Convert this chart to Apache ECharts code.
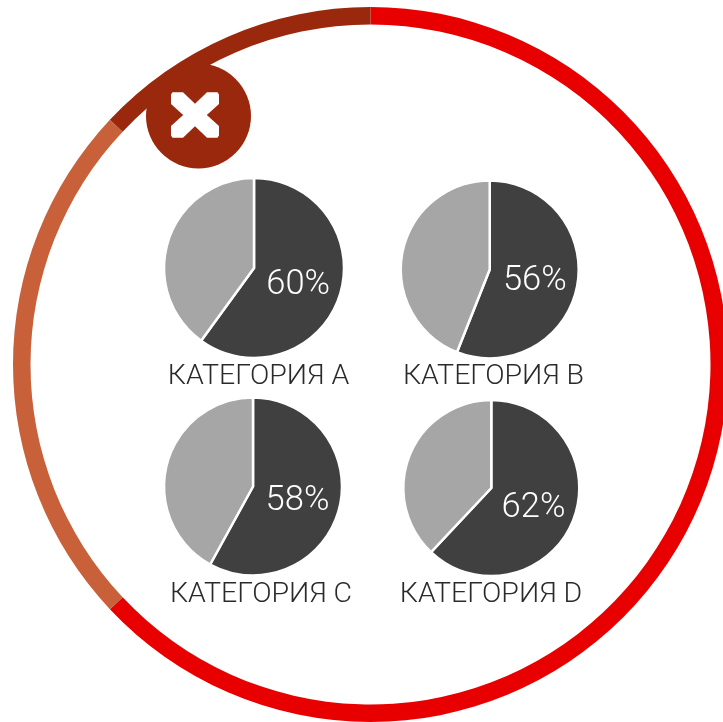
<!DOCTYPE html>
<html><head><meta charset="utf-8">
<style>html,body{margin:0;padding:0;background:#fff}#c{width:723px;height:722px}</style>
<script src="https://cdn.jsdelivr.net/npm/echarts@6/dist/echarts.min.js"></script>
</head><body><div id="c"></div>
<script>
const categories = ['КАТЕГОРИЯ A','КАТЕГОРИЯ B','КАТЕГОРИЯ C','КАТЕГОРИЯ D'];
const percentValues = [60,56,58,62];
const ringValues = [63,24,13];
const ringColors = ['#e80000','#c8603a','#9a280c'];
const pieCenters = [[254,268],[489.7,269.5],[253,486.5],[491.3,488]];
const pieRadii = [90,89,89,88];
const titleCenters = [[258.5,362],[493.5,362],[261,580],[491,580]];
const chart = echarts.init(document.getElementById('c'),null,{renderer:'canvas'});
const font = 'Roboto';
const series = [{
  type:'pie',center:[370.5,364.5],radius:[340,357.5],silent:true,clockwise:true,startAngle:90,
  label:{show:false},labelLine:{show:false},
  data:ringValues.map((v,i)=>({value:v,itemStyle:{color:ringColors[i]}}))
}];
percentValues.forEach((p,i)=>{
  series.push({
    type:'pie',center:pieCenters[i],radius:[0,pieRadii[i]],silent:true,startAngle:90,
    labelLine:{show:false},
    itemStyle:{borderColor:'#fff',borderWidth:2.5},
    data:[
      {value:p,itemStyle:{color:'#404040'},label:{show:true,position:'inside',formatter:'{a|{c}%}',
        rich:{a:{color:'#fff',fontFamily:font,fontWeight:300,fontSize:34.5,lineHeight:40,padding:[6,3,0,0]}}}},
      {value:100-p,itemStyle:{color:'#a6a6a6'},label:{show:false}}
    ]
  });
});
chart.setOption({
  animation:false,
  backgroundColor:'#fff',
  title:categories.map((t,i)=>({
    text:t,left:titleCenters[i][0],top:titleCenters[i][1],textAlign:'center',padding:0,
    textStyle:{color:'#2a2a2a',fontFamily:font,fontWeight:300,fontSize:28.5}
  })),
  series,
  graphic:[
    {type:'circle',z:10,shape:{cx:198.5,cy:116,r:52.5},style:{fill:'#9a280c'}},
    {type:'polygon',z:11,shape:{points:[[171,94.5],[172.5,92.3],[183,92.3],[195,103.8],[207,92.3],[217.5,92.3],[219,94.5],[219,104],[206.8,115],[219,126],[219,135.5],[217.5,137.7],[207,137.7],[195,126.2],[183,137.7],[172.5,137.7],[171,135.5],[171,126],[183.2,115],[171,104]]},style:{fill:'#fff'}}
  ]
});
</script></body></html>
